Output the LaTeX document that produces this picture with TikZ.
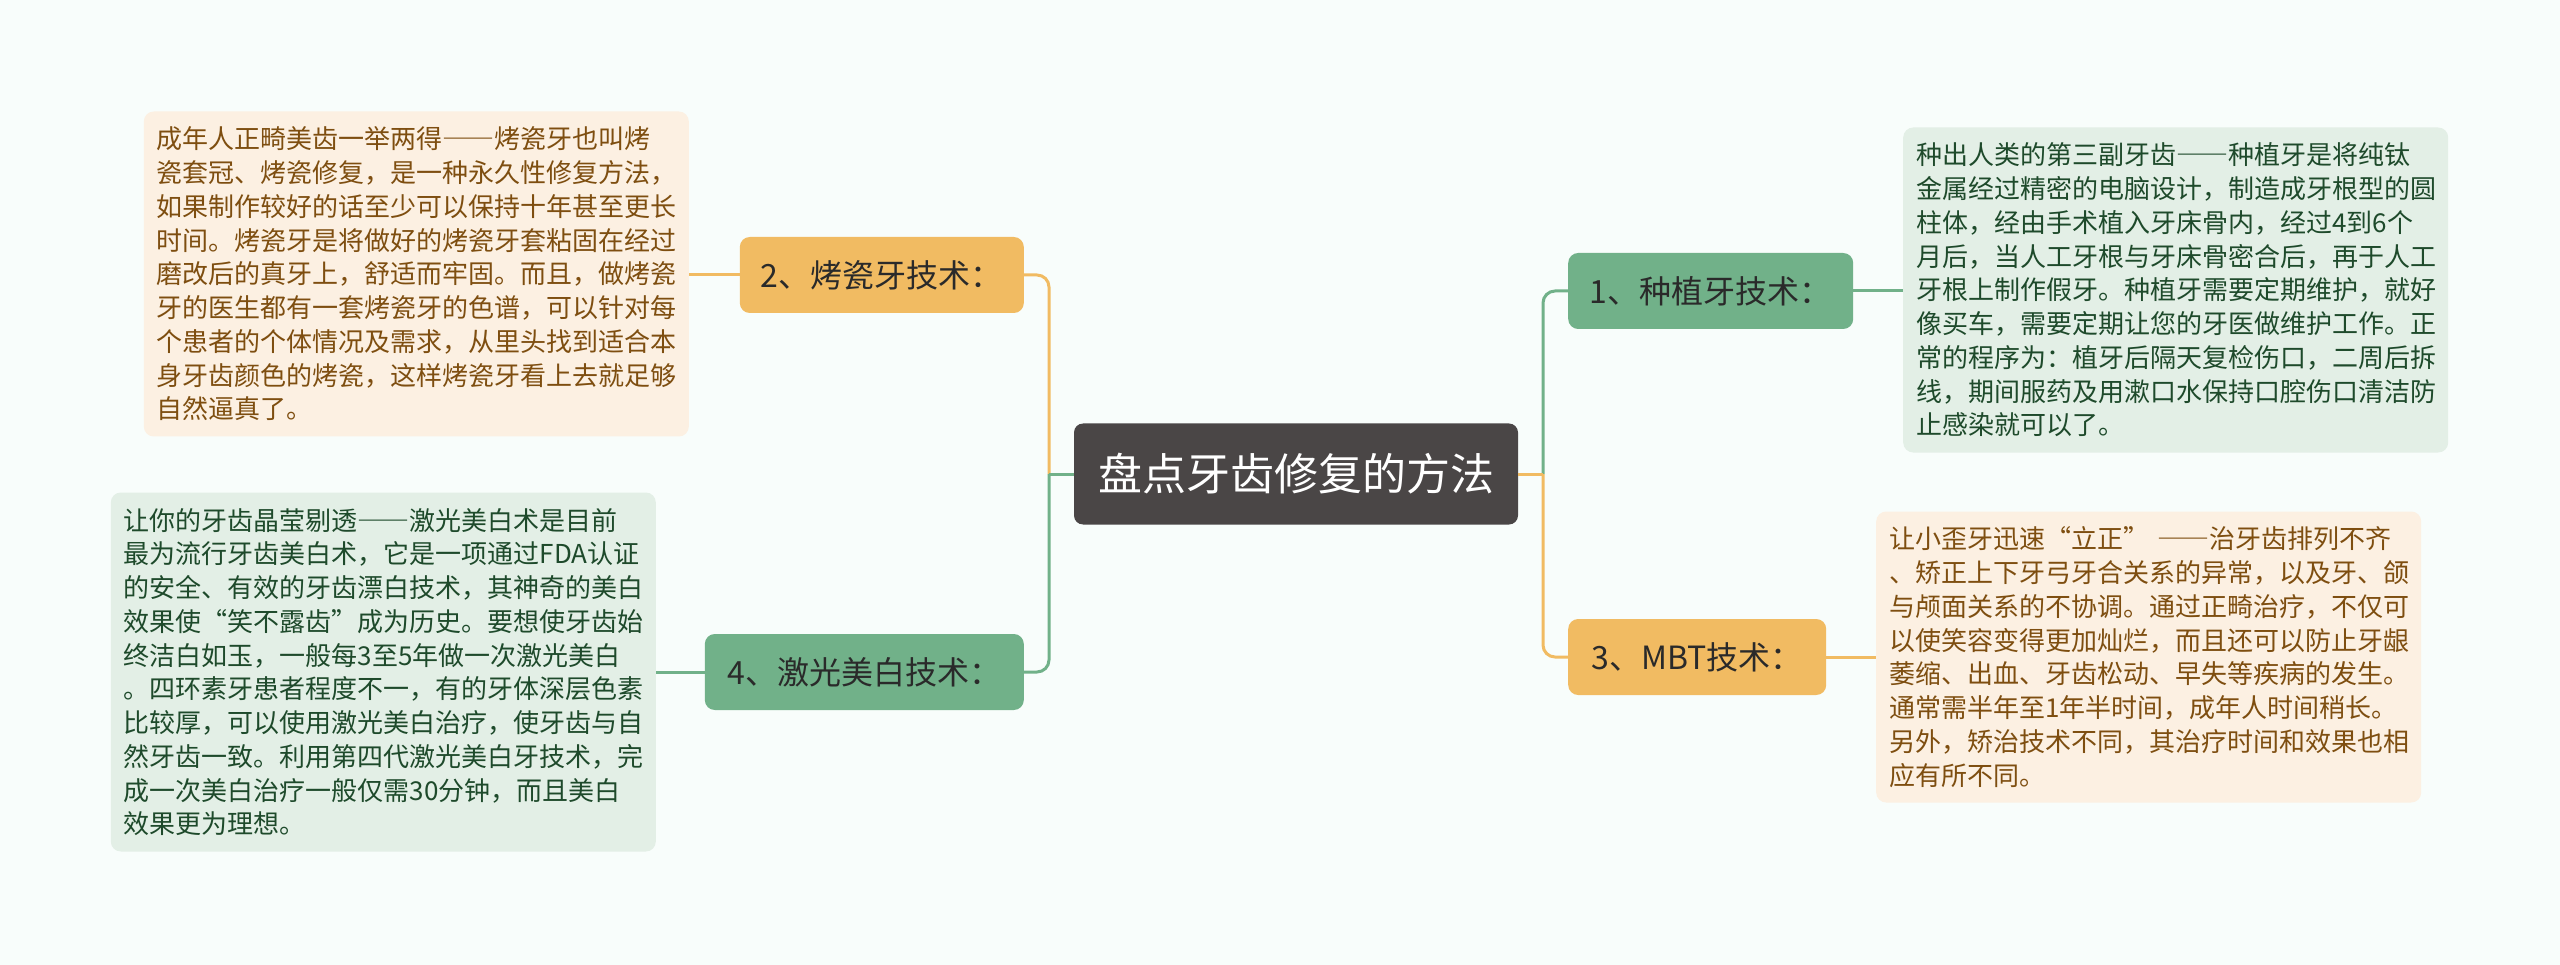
\documentclass[tikz,border=0pt]{standalone}
\usepackage{fontspec}
\setmainfont{Noto Sans CJK SC}
\newcommand\fwdash{{\addfontfeature{CharacterWidth=Full}——}}
\definecolor{bg}{HTML}{F8FDFB}
\definecolor{orangeN}{HTML}{F1BB62}
\definecolor{greenN}{HTML}{71B189}
\definecolor{darkN}{HTML}{4A4646}
\definecolor{creamB}{HTML}{FCF0E2}
\definecolor{mintB}{HTML}{E3EFE6}
\definecolor{brownT}{HTML}{7E4E10}
\definecolor{greenT}{HTML}{1E4A2B}
\definecolor{nodeT}{HTML}{2A2A2A}
\begin{document}
\begin{tikzpicture}[x=1pt,y=-1pt,
  topic/.style={rounded corners=10pt, inner xsep=0pt, inner ysep=0pt,
    minimum height=76pt, font=\fontsize{32}{38}\selectfont, text=nodeT},
  orangetopic/.style={topic, fill=orangeN},
  greentopic/.style={topic, fill=greenN},
  central/.style={rounded corners=9pt, fill=darkN, text=white,
    minimum width=444pt, minimum height=101pt, inner sep=0pt,
    font=\fontsize{44}{50}\selectfont},
  textbox/.style={rounded corners=10pt, align=left, inner xsep=13pt,
    inner ysep=0pt, text width=519pt, font=\fontsize{26}{33.75}\selectfont},
  creambox/.style={textbox, fill=creamB, text=brownT},
  mintbox/.style={textbox, fill=mintB, text=greenT},
  oline/.style={draw=orangeN, line width=3pt},
  gline/.style={draw=greenN, line width=3pt},
]
\fill[bg] (0,0) rectangle (2560,965);
\useasboundingbox (0,0) rectangle (2560,965);

\node[central] (c) at (1296,474) {盘点牙齿修复的方法};

\node[orangetopic, minimum width=284pt, anchor=east] (n2) at (1024,275) {2、烤瓷牙技术：};
\node[greentopic, minimum width=319pt, anchor=east] (n4) at (1024,672) {4、激光美白技术：};
\node[greentopic, minimum width=285pt, anchor=west] (n1) at (1568,291) {1、种植牙技术：};
\node[orangetopic, minimum width=258pt, anchor=west] (n3) at (1568,657) {3、MBT技术：};

\node[creambox, minimum height=325pt, anchor=east] (t2) at (689,274) {成年人正畸美齿一举两得\fwdash 烤瓷牙也叫烤\\瓷套冠、烤瓷修复，是一种永久性修复方法，\\如果制作较好的话至少可以保持十年甚至更长\\时间。烤瓷牙是将做好的烤瓷牙套粘固在经过\\磨改后的真牙上，舒适而牢固。而且，做烤瓷\\牙的医生都有一套烤瓷牙的色谱，可以针对每\\个患者的个体情况及需求，从里头找到适合本\\身牙齿颜色的烤瓷，这样烤瓷牙看上去就足够\\自然逼真了。};

\node[mintbox, minimum height=359pt, anchor=east] (t4) at (656,672) {让你的牙齿晶莹剔透\fwdash 激光美白术是目前\\最为流行牙齿美白术，它是一项通过FDA认证\\的安全、有效的牙齿漂白技术，其神奇的美白\\效果使“笑不露齿”成为历史。要想使牙齿始\\终洁白如玉，一般每3至5年做一次激光美白\\。四环素牙患者程度不一，有的牙体深层色素\\比较厚，可以使用激光美白治疗，使牙齿与自\\然牙齿一致。利用第四代激光美白牙技术，完\\成一次美白治疗一般仅需30分钟，而且美白\\效果更为理想。};

\node[mintbox, minimum height=325pt, anchor=west] (t1) at (1903,290) {种出人类的第三副牙齿\fwdash 种植牙是将纯钛\\金属经过精密的电脑设计，制造成牙根型的圆\\柱体，经由手术植入牙床骨内，经过4到6个\\月后，当人工牙根与牙床骨密合后，再于人工\\牙根上制作假牙。种植牙需要定期维护，就好\\像买车，需要定期让您的牙医做维护工作。正\\常的程序为：植牙后隔天复检伤口，二周后拆\\线，期间服药及用漱口水保持口腔伤口清洁防\\止感染就可以了。};

\node[creambox, minimum height=291pt, anchor=west] (t3) at (1876,657) {让小歪牙迅速“立正” \fwdash 治牙齿排列不齐\\、矫正上下牙弓牙合关系的异常，以及牙、颌\\与颅面关系的不协调。通过正畸治疗，不仅可\\以使笑容变得更加灿烂，而且还可以防止牙龈\\萎缩、出血、牙齿松动、早失等疾病的发生。\\通常需半年至1年半时间，成年人时间稍长。\\另外，矫治技术不同，其治疗时间和效果也相\\应有所不同。};

\coordinate (tl) at (1049,474);
\coordinate (tr) at (1543,474);

% left side
\draw[oline, rounded corners=12pt] (n2.east) -| (tl);
\draw[oline] (tl) -- (c.west);
\draw[gline, rounded corners=12pt] (n4.east) -| (tl);
\draw[gline] (tl) -- (c.west);
% right side
\draw[gline, rounded corners=12pt] (n1.west) -| (tr);
\draw[gline] (tr) -- (c.east);
\draw[oline, rounded corners=12pt] (n3.west) -| (tr);
\draw[oline] (tr) -- (c.east);

% leaves
\draw[oline] (n2.west) -- (t2.east |- n2.west);
\draw[gline] (n4.west) -- (t4.east |- n4.west);
\draw[gline] (n1.east) -- (t1.west |- n1.east);
\draw[oline] (n3.east) -- (t3.west |- n3.east);
\end{tikzpicture}
\end{document}
